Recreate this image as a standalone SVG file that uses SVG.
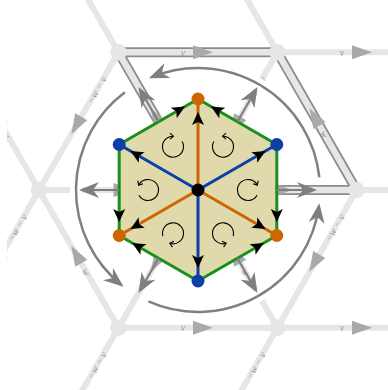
<svg xmlns="http://www.w3.org/2000/svg" width="388" height="390" viewBox="0 0 388 390">
<defs>
<clipPath id="clip"><rect x="7" y="0" width="381" height="390"/></clipPath>
<marker id="ga" viewBox="-22 -10 24 20" markerWidth="24" markerHeight="20" refX="-3" refY="0" orient="auto" markerUnits="userSpaceOnUse"><path d="M0,0 L-20,-8 L-14,0 L-20,8 Z" fill="#7f7f7f"/></marker>
<path id="la" d="M15,0 L-5,-7 L-5,7 Z" fill="#a9a9a9"/>
<path id="ba" d="M0,0 L-13,-6 L-10,0 L-13,6 Z" fill="#000"/>
<g id="cw"><path d="M9.09,-5.25 A10.5,10.5 0 1 1 0,-10.5" fill="none" stroke="#000" stroke-width="1.1"/><path d="M-3,-13.5 L0.5,-10.5 L-3,-7.5" fill="none" stroke="#000" stroke-width="1.1"/></g>
</defs>
<style>
.lat{stroke:#e6e6e6;stroke-width:6;fill:none}
.bo{stroke:#8c8c8c;stroke-width:10;fill:none}
.bi{stroke:#e6e6e6;stroke-width:6.5;fill:none}
.nd{fill:#e6e6e6}
.lb{font-family:"Liberation Serif",serif;font-style:italic;font-size:10px;fill:#999;text-anchor:middle;dominant-baseline:central}
.halo{stroke:#fff;stroke-width:12;fill:none}
.arc{stroke:#808080;stroke-width:2.5;fill:none;marker-end:url(#ga)}
.gar{stroke:#7f7f7f;stroke-width:2.2;fill:none;marker-end:url(#ga)}
.sp{stroke-width:3;fill:none}
</style>
<g id="lattice" clip-path="url(#clip)">
<g id="lattice-lines">
<path class="lat" d="M277.5,52.3 H395"/>
<path class="lat" d="M118.5,52.3 L39,190"/>
<path class="lat" d="M118.5,52.3 L39,-85.4"/>
<path class="lat" d="M277.5,52.3 L198,-85.4"/>
<path class="lat" d="M277.5,52.3 L198,190"/>
<path class="lat" d="M39,190 H198"/>
<path class="lat" d="M356.5,190 H395"/>
<path class="lat" d="M356.5,190 L277.5,327.7"/>
<path class="lat" d="M277.5,327.7 L198,190"/>
<path class="lat" d="M198,190 L118.5,327.7"/>
<path class="lat" d="M118.5,327.7 L39,190"/>
<path class="lat" d="M39,190 L-40.5,327.7"/>
<path class="lat" d="M39,190 L-40.5,52.3"/>
<path class="lat" d="M118.5,327.7 H277.5"/>
<path class="lat" d="M277.5,327.7 H395"/>
<path class="lat" d="M118.5,327.7 L39,465.4"/>
<path class="lat" d="M277.5,327.7 L198,465.4"/>
</g>
<g id="bands">
<path class="bo" d="M118.5,52.3 H277.5"/><path class="bi" d="M118.5,52.3 H277.5"/>
<path class="bo" d="M198,190 L118.5,52.3"/><path class="bi" d="M198,190 L118.5,52.3"/>
<path class="bo" d="M356.5,190 L277.5,52.3"/><path class="bi" d="M356.5,190 L277.5,52.3"/>
<path class="bo" d="M198,190 H356.5"/><path class="bi" d="M198,190 H356.5"/>
</g>
<g id="lattice-nodes">
<circle class="nd" cx="118.5" cy="52.3" r="8.3"/>
<circle class="nd" cx="277.5" cy="52.3" r="8.3"/>
<circle class="nd" cx="356.5" cy="190" r="8.3"/>
<circle class="nd" cx="39" cy="190" r="8.3"/>
<circle class="nd" cx="118.5" cy="327.7" r="8.3"/>
<circle class="nd" cx="277.5" cy="327.7" r="8.3"/>
</g>
<g id="lattice-arrows">
<use href="#la" transform="translate(198,52.3)"/>
<use href="#la" transform="translate(357,52.3)"/>
<use href="#la" transform="translate(78.75,121.15) rotate(120)"/>
<use href="#la" transform="translate(237.75,121.15) rotate(120)"/>
<use href="#la" transform="translate(158.25,121.15) rotate(240)"/>
<use href="#la" transform="translate(317,121.15) rotate(240)"/>
<use href="#la" transform="translate(277.25,190)"/>
<use href="#la" transform="translate(118.5,190)"/>
<use href="#la" transform="translate(316.75,258.85) rotate(120)"/>
<use href="#la" transform="translate(237.75,258.85) rotate(240)"/>
<use href="#la" transform="translate(158.25,258.85) rotate(120)"/>
<use href="#la" transform="translate(78.75,258.85) rotate(240)"/>
<use href="#la" transform="translate(-0.75,258.85) rotate(120)"/>
<use href="#la" transform="translate(-0.75,121.15) rotate(240)"/>
<use href="#la" transform="translate(198,327.7)"/>
<use href="#la" transform="translate(357,327.7)"/>
</g>
<g id="lattice-labels">
<text class="lb" x="183" y="52.3">v</text>
<text class="lb" x="342" y="52.3">v</text>
<text class="lb" x="183" y="327.7">v</text>
<text class="lb" x="342" y="327.7">v</text>
<text class="lb" transform="translate(324.5,134.1) rotate(60)">w</text>
<text class="lb" transform="translate(86.25,271.84) rotate(60)">w</text>
<text class="lb" transform="translate(245.25,271.84) rotate(60)">w</text>
<text class="lb" transform="translate(6.75,134.1) rotate(60)">w</text>
<text class="lb" transform="translate(96.75,89.97) rotate(-60)">−w − v</text>
<text class="lb" transform="translate(255.75,89.97) rotate(-60)">−w − v</text>
<text class="lb" transform="translate(334.75,227.67) rotate(-60)">−w − v</text>
<text class="lb" transform="translate(17.25,227.67) rotate(-60)">−w − v</text>
<text class="lb" transform="translate(96.75,365.37) rotate(-60)">−w − v</text>
<text class="lb" transform="translate(255.75,365.37) rotate(-60)">−w − v</text>
</g>
</g>
<g id="rotation-arcs">
<path class="halo" d="M319.3,177.25 A122,122 0 0 0 151.7,77.1"/>
<path class="halo" d="M124.9,92.3 A122,122 0 0 0 121.2,284.8"/>
<path class="halo" d="M148.4,301.4 A122,122 0 0 0 318.9,206.1"/>
<path class="arc" d="M319.3,177.25 A122,122 0 0 0 151.7,77.1"/>
<path class="arc" d="M124.9,92.3 A122,122 0 0 0 121.2,284.8"/>
<path class="arc" d="M148.4,301.4 A122,122 0 0 0 318.9,206.1"/>
</g>
<g id="hexagon">
<path d="M198,99 L276.8,144.5 L276.8,235.5 L198,281 L119.2,235.5 L119.2,144.5 Z" fill="#e0d9ab" stroke="#1a8f1a" stroke-width="3" stroke-linejoin="round"/>
</g>
<g id="connectors">
<path class="sp" stroke="#cc6600" d="M198,190 L198,99 M198,190 L276.8,235.5 M198,190 L119.2,235.5"/>
<path class="sp" stroke="#0d3fa6" d="M198,190 L276.8,144.5 M198,190 L198,281 M198,190 L119.2,144.5"/>
<use href="#ba" transform="translate(198,112) rotate(-90)"/>
<use href="#ba" transform="translate(265.55,151) rotate(-30)"/>
<use href="#ba" transform="translate(265.55,229) rotate(30)"/>
<use href="#ba" transform="translate(198,268) rotate(90)"/>
<use href="#ba" transform="translate(130.45,229) rotate(150)"/>
<use href="#ba" transform="translate(130.45,151) rotate(210)"/>
<use href="#ba" transform="translate(185,106.5) rotate(-30)"/>
<use href="#ba" transform="translate(211,106.5) rotate(210)"/>
<use href="#ba" transform="translate(119.2,222) rotate(90)"/>
<use href="#ba" transform="translate(276.8,222) rotate(90)"/>
<use href="#ba" transform="translate(132.2,243) rotate(210)"/>
<use href="#ba" transform="translate(263.8,243) rotate(-30)"/>
<g id="displacement-arrows">
<path class="gar" d="M276.8,190 L314,190"/>
<path class="gar" d="M237.4,121.76 L256,89.54"/>
<path class="gar" d="M158.6,121.76 L140,89.54"/>
<path class="gar" d="M119.2,190 L82,190"/>
<path class="gar" d="M158.6,258.24 L140,290.46"/>
<path class="gar" d="M237.4,258.24 L256,290.46"/>
</g>
</g>
<g id="orientations">
<use href="#cw" transform="translate(173,146.7)"/>
<use href="#cw" transform="translate(223,146.7) scale(-1,1)"/>
<use href="#cw" transform="translate(148,190) rotate(-60) scale(-1,1)"/>
<use href="#cw" transform="translate(248,190) rotate(60)"/>
<use href="#cw" transform="translate(173,233.3) rotate(-165)"/>
<use href="#cw" transform="translate(223,233.3) rotate(165) scale(-1,1)"/>
</g>
<g id="vertex-nodes">
<circle id="n-center" cx="198" cy="190" r="6.5" fill="#000"/>
<circle id="n-top" cx="198" cy="99" r="6.5" fill="#cc6600"/>
<circle id="n-ur" cx="276.8" cy="144.5" r="6.5" fill="#0d3fa6"/>
<circle id="n-lr" cx="276.8" cy="235.5" r="6.5" fill="#cc6600"/>
<circle id="n-bottom" cx="198" cy="281" r="6.5" fill="#0d3fa6"/>
<circle id="n-ll" cx="119.2" cy="235.5" r="6.5" fill="#cc6600"/>
<circle id="n-ul" cx="119.2" cy="144.5" r="6.5" fill="#0d3fa6"/>
</g>
</svg>
